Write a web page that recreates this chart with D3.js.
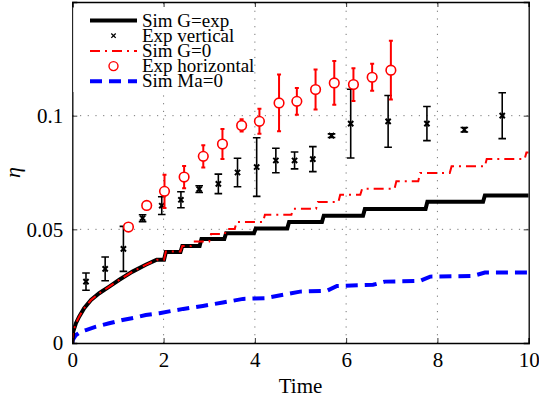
<!DOCTYPE html>
<html>
<head>
<meta charset="utf-8">
<script src="https://cdn.jsdelivr.net/npm/d3@7"></script>
<style>
  body { margin: 0; background: #fff; }
  text { font-family: "Liberation Serif", serif; fill: #000; }
</style>
</head>
<body>
<script>
// simulation curves (smooth start, then step levels)
const simExpT   = [0, 0.02, 0.08, 0.15, 0.26, 0.41, 0.59, 0.81, 1.03, 1.32, 1.61, 1.85, 2.05, 2.41, 2.83, 3.37, 4.02, 4.75, 5.51, 6.41, 7.78, 9.04, 10];
const simExpEta = [0, 0.005, 0.0087, 0.0116, 0.0153, 0.0189, 0.0219, 0.0248, 0.0278, 0.0314, 0.0344, 0.0366, 0.0400, 0.0427, 0.0457, 0.0483, 0.0504, 0.0532, 0.0560, 0.0589, 0.0621, 0.0649, 0.0649];

const simG0T   = [0, 0.02, 0.08, 0.15, 0.26, 0.41, 0.59, 0.81, 1.03, 1.32, 1.61, 1.85, 2.05, 2.41, 2.64, 3.04, 3.38, 3.6, 4.22, 4.84, 5.38, 5.87, 6.35, 7.1, 7.62, 8.31, 9.08, 9.95, 10];
const simG0Eta = [0, 0.005, 0.0087, 0.0116, 0.0153, 0.0189, 0.0219, 0.0248, 0.0278, 0.0314, 0.0344, 0.0366, 0.0402, 0.0427, 0.0446, 0.0479, 0.0502, 0.0532, 0.0564, 0.0590, 0.0620, 0.0652, 0.0678, 0.0711, 0.0748, 0.0777, 0.0809, 0.0838, 0.0838];
const smoothUntil = 1.85;

const simMaT   = [0, 0.01, 0.08, 0.19, 0.3, 0.52, 0.81, 1.1, 1.4, 1.61, 1.91, 2.2, 2.43, 2.86, 3.3, 3.74, 4.22, 4.7, 4.99, 5.58, 5.8, 6.59, 6.85, 7.62, 7.84, 8.78, 9.04, 10];
const simMaEta = [0, 0.0013, 0.0035, 0.005, 0.0057, 0.0072, 0.0087, 0.0101, 0.0113, 0.0123, 0.0131, 0.0142, 0.015, 0.0163, 0.0178, 0.0194, 0.0197, 0.0215, 0.0226, 0.023, 0.0251, 0.0256, 0.027, 0.0273, 0.0292, 0.0295, 0.031, 0.031];

// experiments
const expVT   = [0.30, 0.72, 1.12, 1.54, 1.96, 2.38, 2.78, 3.20, 3.62, 4.04, 4.46, 4.87, 5.27, 5.68, 6.10, 6.92, 7.77, 8.59, 9.42];
const expVEta = [0.027, 0.0326, 0.0414, 0.0549, 0.0604, 0.063, 0.0677, 0.070, 0.075, 0.0774, 0.0803, 0.0803, 0.0809, 0.0912, 0.0965, 0.0975, 0.0965, 0.0938, 0.100];
const expVErr = [0.0038, 0.0052, 0.0099, 0.0015, 0.0039, 0.0035, 0.0015, 0.0043, 0.0063, 0.0129, 0.0054, 0.0037, 0.0055, 0.0008, 0.0151, 0.0114, 0.0075, 0.001, 0.0101];

const expHT   = [1.23, 1.63, 2.02, 2.45, 2.87, 3.29, 3.71, 4.10, 4.53, 4.92, 5.33, 5.74, 6.16, 6.57, 6.98];
const expHEta = [0.051, 0.0605, 0.0667, 0.073, 0.0821, 0.0875, 0.0957, 0.0975, 0.1056, 0.1063, 0.1115, 0.1144, 0.1137, 0.1169, 0.120];
const expHErr = [0.001, 0.001, 0.0073, 0.0049, 0.0049, 0.0066, 0.0027, 0.0055, 0.0125, 0.0059, 0.0088, 0.0096, 0.0072, 0.0059, 0.0129];

const xTicks = [0, 2, 4, 6, 8, 10];
const yTicks = [0, 0.05, 0.1];
const legendLabels = ["Sim G=exp", "Exp vertical", "Sim G=0", "Exp horizontal", "Sim Ma=0"];

const width = 539, height = 403;
const x = d3.scaleLinear().domain([0, 10]).range([72.3, 528.7]);
const y = d3.scaleLinear().domain([0, 0.15]).range([343, 2]);

const svg = d3.select("body").append("svg")
  .attr("width", width).attr("height", height);

svg.append("defs").append("clipPath").attr("id", "clip")
  .append("rect")
  .attr("x", x(0)).attr("y", y(0.15))
  .attr("width", x(10) - x(0)).attr("height", y(0) - y(0.15));

// grid
const grid = svg.append("g")
  .attr("stroke", "#777").attr("stroke-width", 1).attr("stroke-dasharray", "1.2,6.5");
grid.selectAll(".gx").data(xTicks.slice(1, -1)).enter().append("line")
  .attr("x1", d => x(d)).attr("x2", d => x(d))
  .attr("y1", y(0)).attr("y2", y(0.15));
grid.selectAll(".gy").data(yTicks.slice(1)).enter().append("line")
  .attr("x1", x(0)).attr("x2", x(10))
  .attr("y1", d => y(d)).attr("y2", d => y(d));

const plot = svg.append("g").attr("clip-path", "url(#clip)");

const line = d3.line().x(d => x(d[0])).y(d => y(d[1]));

// smooth up to smoothUntil, then stairs with slightly slanted risers
function stairs(ts, es) {
  const pts = [];
  ts.forEach((t, i) => {
    if (t > smoothUntil && i > 0) pts.push([t - 0.04, es[i - 1]]);
    pts.push([t, es[i]]);
  });
  return pts;
}

plot.append("path")
  .attr("d", line(d3.zip(simMaT, simMaEta)))
  .attr("fill", "none").attr("stroke", "#0000ff").attr("stroke-width", 4)
  .attr("stroke-dasharray", "12,7");

plot.append("path")
  .attr("d", line(stairs(simExpT, simExpEta)))
  .attr("fill", "none").attr("stroke", "#000").attr("stroke-width", 4);

plot.append("path")
  .attr("d", line(stairs(simG0T, simG0Eta)))
  .attr("fill", "none").attr("stroke", "#ff0000").attr("stroke-width", 2)
  .attr("stroke-dasharray", "10,5,2,5");

// Exp vertical: error bars + x markers
const expV = d3.zip(expVT, expVEta, expVErr);
const ev = plot.append("g").attr("stroke", "#000").attr("stroke-width", 1.6);
ev.selectAll(".bar").data(expV).enter().append("path")
  .attr("fill", "none")
  .attr("d", d => {
    const cx = x(d[0]), t = y(d[1] + d[2]), b = y(d[1] - d[2]);
    return `M${cx},${t}V${b}M${cx - 3.8},${t}H${cx + 3.8}M${cx - 3.8},${b}H${cx + 3.8}`;
  });
ev.selectAll(".mk").data(expV).enter().append("path")
  .attr("stroke-width", 2)
  .attr("d", d => {
    const cx = x(d[0]), cy = y(d[1]), s = 2.6;
    return `M${cx - s},${cy - s}L${cx + s},${cy + s}M${cx - s},${cy + s}L${cx + s},${cy - s}`;
  });

// Exp horizontal: error bars + circles
const expH = d3.zip(expHT, expHEta, expHErr);
const eh = plot.append("g").attr("stroke", "#ff0000").attr("stroke-width", 2);
eh.selectAll(".bar").data(expH).enter().append("path")
  .attr("fill", "none")
  .attr("d", d => {
    const cx = x(d[0]), t = y(d[1] + d[2]), b = y(d[1] - d[2]);
    return `M${cx},${t}V${b}M${cx - 2},${t}H${cx + 2}M${cx - 2},${b}H${cx + 2}`;
  });
eh.selectAll("circle").data(expH).enter().append("circle")
  .attr("cx", d => x(d[0])).attr("cy", d => y(d[1])).attr("r", 4.8)
  .attr("fill", "#fff").attr("stroke-width", 1.6);

// axes
const fmt = d => d === 0 ? "0" : String(d);
const ax = svg.append("g").attr("transform", `translate(0,${y(0)})`)
  .call(d3.axisBottom(x).tickValues(xTicks).tickSize(-5).tickPadding(9).tickFormat(fmt));
const ay = svg.append("g").attr("transform", `translate(${x(0)},0)`)
  .call(d3.axisLeft(y).tickValues(yTicks).tickSize(-5).tickPadding(9).tickFormat(fmt));
const at = svg.append("g").attr("transform", `translate(0,${y(0.15)})`)
  .call(d3.axisTop(x).tickValues(xTicks).tickSize(-5).tickFormat(""));
const ar = svg.append("g").attr("transform", `translate(${x(10)},0)`)
  .call(d3.axisRight(y).tickValues(yTicks).tickSize(-5).tickFormat(""));
[ax, ay, at, ar].forEach(g => {
  g.select(".domain").attr("stroke", "#000").attr("stroke-width", 1.3);
  g.selectAll(".tick line").attr("stroke", "#000").attr("stroke-width", 0.8);
  g.selectAll("text").attr("font-family", "Liberation Serif").attr("font-size", 21).attr("fill", "#000");
});

svg.append("text")
  .attr("x", (x(0) + x(10)) / 2).attr("y", 393)
  .attr("text-anchor", "middle").attr("font-size", 21)
  .text("Time");
svg.append("text")
  .attr("transform", `translate(20,${(y(0) + y(0.15)) / 2}) rotate(-90)`)
  .attr("text-anchor", "middle").attr("font-size", 22).attr("font-style", "italic")
  .text("η");

// legend
const lg = svg.append("g");
lg.append("rect").attr("x", x(0) + 1).attr("y", 8).attr("width", 178).attr("height", 84).attr("fill", "#fff");
const rowY = i => 20.5 + i * 15.2;
const lx0 = 90, lx1 = 137, lmid = 113.5;
lg.append("line").attr("x1", lx0).attr("x2", lx1).attr("y1", rowY(0)).attr("y2", rowY(0))
  .attr("stroke", "#000").attr("stroke-width", 4);
lg.append("path").attr("stroke", "#000").attr("stroke-width", 1.3)
  .attr("d", `M${lmid - 2.2},${rowY(1) - 2.2}L${lmid + 2.2},${rowY(1) + 2.2}M${lmid - 2.2},${rowY(1) + 2.2}L${lmid + 2.2},${rowY(1) - 2.2}`);
lg.append("line").attr("x1", lx0).attr("x2", lx1).attr("y1", rowY(2)).attr("y2", rowY(2))
  .attr("stroke", "#ff0000").attr("stroke-width", 2).attr("stroke-dasharray", "10,5,2,5");
lg.append("circle").attr("cx", lmid).attr("cy", rowY(3)).attr("r", 4.5)
  .attr("fill", "none").attr("stroke", "#ff0000").attr("stroke-width", 1.4);
lg.append("line").attr("x1", lx0).attr("x2", lx1).attr("y1", rowY(4)).attr("y2", rowY(4))
  .attr("stroke", "#0000ff").attr("stroke-width", 4).attr("stroke-dasharray", "12,7");
lg.selectAll(".lt").data(legendLabels).enter().append("text")
  .attr("x", 142).attr("y", (d, i) => rowY(i) + 6)
  .attr("font-size", 19)
  .text(d => d);
</script>
</body>
</html>
